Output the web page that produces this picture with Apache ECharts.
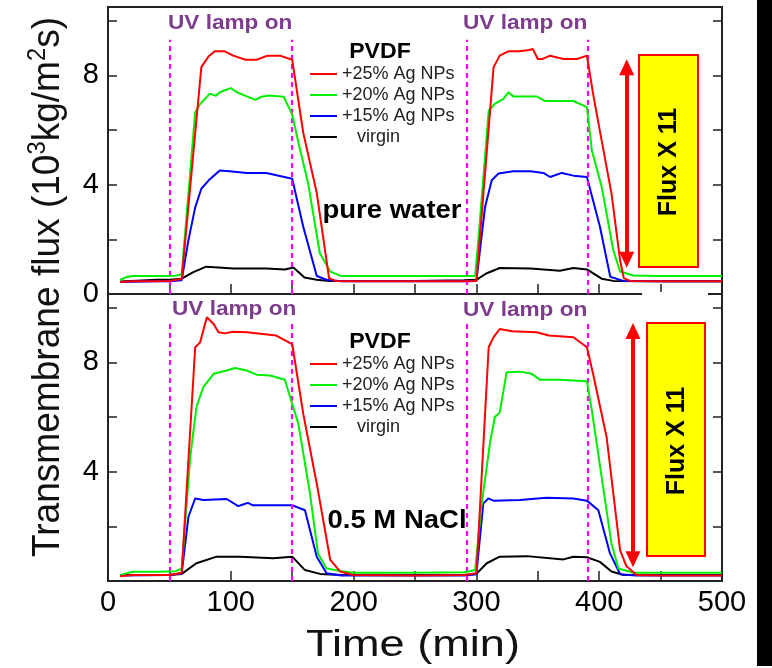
<!DOCTYPE html>
<html><head><meta charset="utf-8">
<script src="https://cdn.jsdelivr.net/npm/echarts@6/dist/echarts.min.js"></script>
<style>html,body{margin:0;padding:0;background:#fff}#c{width:772px;height:668px}</style>
</head><body><div id="c"></div>
<script>
// ---------- data ----------
const xTickLabels = [0, 100, 200, 300, 400, 500];
const yTickLabelsTop = [0, 4, 8];
const yTickLabelsBottom = [4, 8];
const yTicks = [2, 4, 6, 8, 10];
const uvLampOn = [50, 292];
const uvLampOff = [150, 391];
const seriesNames = ['+25% Ag NPs', '+20% Ag NPs', '+15% Ag NPs', 'virgin'];
const seriesColors = ['#ff0000', '#00ee00', '#0000ff', '#000000'];

// pure water panel
const pureWater25 = [[10,0.44],[20,0.47],[40,0.47],[50,0.48],[60,0.55],[76,8.3],[82,8.7],[87,8.88],[95,8.88],[102,8.72],[112,8.57],[121,8.57],[130,8.72],[140,8.72],[150,8.57],[159,5.9],[170,3.7],[180,0.58],[185,0.48],[200,0.47],[250,0.47],[290,0.47],[300,0.48],[314,8.3],[319,8.72],[326,8.88],[335,8.88],[343,8.93],[346,8.96],[350,8.6],[354,8.6],[360,8.72],[371,8.6],[382,8.6],[390,8.72],[395,7.33],[401,5.86],[410,3.67],[417,1.24],[420,0.58],[425,0.48],[450,0.47],[500,0.47]];
const pureWater20 = [[10,0.52],[15,0.62],[20,0.66],[40,0.66],[55,0.67],[60,0.72],[71,6.65],[75,6.95],[83,7.33],[88,7.25],[91,7.38],[100,7.53],[105,7.38],[112,7.25],[120,7.1],[125,7.22],[131,7.26],[143,7.22],[150,6.56],[155,5.55],[163,4.04],[172.5,1.49],[181,0.82],[189,0.67],[200,0.66],[250,0.66],[290,0.66],[299,0.67],[302,2.2],[310,6.7],[315,6.96],[322,7.14],[326,7.38],[330,7.23],[349,7.23],[356,7.06],[379,7.06],[390,6.84],[394,5.26],[402,3.92],[411.5,1.6],[417,0.82],[428,0.68],[450,0.66],[500,0.66]];
const pureWater15 = [[10,0.44],[40,0.47],[50,0.47],[60,0.5],[65.5,1.97],[71,3.17],[76,3.85],[82,4.16],[91,4.52],[99,4.49],[113,4.43],[129,4.43],[150,4.22],[159,2.46],[170,0.66],[178,0.52],[190,0.47],[250,0.47],[290,0.47],[300,0.48],[307,3.17],[312.5,4.16],[318,4.41],[330,4.49],[344,4.49],[354.5,4.43],[360,4.28],[369.5,4.43],[379,4.33],[390,4.28],[400.6,2.46],[409,0.63],[419.6,0.48],[450,0.47],[500,0.47]];
const pureWaterVirgin = [[10,0.46],[40,0.52],[50,0.52],[60,0.56],[69.5,0.8],[80,1.0],[90,0.97],[102,0.93],[129,0.93],[144,0.9],[151,0.97],[160,0.6],[170,0.52],[180,0.48],[250,0.48],[290,0.5],[300,0.52],[308,0.75],[319,0.95],[344,0.93],[368,0.85],[379,0.95],[390,0.9],[402,0.56],[411.5,0.48],[450,0.47],[500,0.47]];

// 0.5 M NaCl panel
const nacl25 = [[10,0.17],[20,0.22],[50,0.22],[60,0.3],[71,8.55],[75,8.73],[80.5,9.65],[86,9.4],[90,9.1],[95,9.06],[102,9.12],[113,9.1],[137,8.98],[150,8.67],[159,6.12],[170,3.56],[181,0.77],[189,0.35],[200,0.22],[250,0.2],[290,0.22],[300,0.28],[310,8.55],[314,8.92],[319,9.22],[329,9.14],[349,9.1],[359,8.98],[379,8.92],[390,8.55],[395,7.58],[406,5.27],[417,1.13],[422,0.55],[430.5,0.22],[450,0.2],[500,0.2]];
const nacl20 = [[10,0.22],[20,0.34],[40,0.34],[55,0.36],[60,0.45],[67,4.54],[72,6.36],[77.6,7.09],[86,7.58],[96.7,7.7],[103.4,7.79],[113,7.7],[121,7.55],[132,7.52],[144,7.36],[150,6.48],[155,5.75],[164.5,3.2],[171,1.01],[178,0.46],[189,0.37],[200,0.3],[250,0.3],[290,0.32],[299,0.4],[304,2.71],[311,5.03],[315,6.0],[319,6.16],[324.6,7.64],[335.5,7.66],[345,7.58],[352,7.36],[368,7.36],[390,7.31],[394,6.24],[402,3.8],[410,1.37],[415.6,0.46],[428,0.3],[450,0.3],[500,0.3]];
const nacl15 = [[10,0.2],[50,0.22],[60,0.28],[65.5,2.35],[71,3.02],[77.6,2.96],[96.7,3.0],[106,2.74],[110,2.8],[114,2.86],[118,2.77],[143,2.77],[150,2.77],[160.4,2.59],[170,0.89],[178,0.28],[190,0.2],[250,0.2],[290,0.2],[300,0.25],[305.6,2.83],[309.7,3.02],[313.8,2.94],[335.5,2.96],[357,3.05],[379,3.02],[390,2.94],[399.3,2.59],[408.8,1.01],[417,0.25],[430,0.2],[500,0.2]];
const naclVirgin = [[10,0.22],[50,0.22],[60,0.26],[72,0.65],[88.5,0.89],[107.5,0.89],[134.6,0.83],[150,0.89],[160.4,0.4],[172.6,0.26],[190,0.22],[290,0.22],[300,0.26],[308.4,0.65],[319,0.89],[341,0.91],[370.8,0.79],[379,0.89],[390,0.87],[400.6,0.7],[410,0.35],[420,0.22],[500,0.22]];

// Flux X 11 arrows (time, from, to)
const fluxArrowTop = [422.4, 8.3, 1.25];
const fluxArrowBottom = [427.5, 9.15, 0.8];
const uvLineTopMax = [9.3, 9.45];

// ---------- chart ----------
const FONT = "'Liberation Sans', Arial, sans-serif";
const chart = echarts.init(document.getElementById('c'));

function xAxisCfg(gi, showLabels) {
  return {
    type: 'value', gridIndex: gi, min: 0, max: 500, interval: 50,
    axisLine: { show: false },
    axisTick: { show: true, inside: true, length: 10, lineStyle: { color: '#222', width: 1.5 } },
    splitLine: { show: false },
    axisLabel: {
      show: showLabels, interval: 0, margin: 7,
      fontFamily: FONT, fontSize: 29, color: '#000',
      showMinLabel: true, showMaxLabel: true,
      formatter: v => xTickLabels.indexOf(v) >= 0 ? String(v) : ''
    }
  };
}
function yAxisCfg(gi, labels, right) {
  return {
    type: 'value', gridIndex: gi, min: 0, max: 10.5, position: right ? 'right' : 'left',
    axisLine: { show: false },
    axisTick: { show: true, inside: true, length: 9, customValues: yTicks, lineStyle: { color: '#222', width: 1.5 } },
    splitLine: { show: false },
    axisLabel: right ? { show: false } : {
      show: true, customValues: labels, margin: 9,
      fontFamily: FONT, fontSize: 29, color: '#000'
    }
  };
}

function panelSeries(gi, d25, d20, d15, dv, arrow, uvMax) {
  const data = [d25, d20, d15, dv];
  const out = [];
  for (let i = 3; i >= 0; i--) {
    const s = {
      type: 'line', name: seriesNames[i], xAxisIndex: gi, yAxisIndex: gi * 2,
      data: data[i], symbol: 'none', showSymbol: false, smooth: false,
      lineStyle: { color: seriesColors[i], width: 2 }, itemStyle: { color: seriesColors[i] },
      z: 3 + (3 - i)
    };
    if (i === 3) {
      const lines = [];
      uvLampOn.concat(uvLampOff).forEach(t => lines.push([{ coord: [t, 0] }, { coord: [t, uvMax] }]));
      s.markLine = {
        silent: true, symbol: ['none', 'none'], label: { show: false },
        lineStyle: { color: '#ff00ff', width: 2.2, type: [5, 4] },
        data: lines, animation: false
      };
    }
    if (i === 0) {
      s.markLine = {
        silent: true, symbol: ['triangle', 'triangle'], symbolSize: [15, 16], label: { show: false },
        lineStyle: { color: '#ff0000', width: 4, type: 'solid' },
        itemStyle: { color: '#ff0000' },
        data: [[{ coord: [arrow[0], arrow[1]] }, { coord: [arrow[0], arrow[2]] }]], animation: false
      };
    }
    out.push(s);
  }
  return out;
}

function legendCfg(top) {
  return {
    show: true, orient: 'vertical', left: 310, top: top, padding: 0,
    icon: 'rect', itemWidth: 27, itemHeight: 2, itemGap: 3,
    data: seriesNames,
    textStyle: { fontFamily: FONT, fontSize: 18, color: '#222', lineHeight: 18 },
    formatter: n => n === 'virgin' ? '   virgin' : n,
    selectedMode: false
  };
}

function text(x, y, str, size, opts, sx) {
  return {
    type: 'text', x: x, y: y, z: 50, scaleX: sx || 1,
    style: Object.assign({ text: str, fontFamily: FONT, fontSize: size, fill: '#000', align: 'left', verticalAlign: 'middle' }, opts || {})
  };
}

const UV = { fontWeight: 'bold', fill: '#7d3c8c' };
const graphics = [
  // UV lamp labels
  text(168, 23, 'UV lamp on', 20, UV, 1.13),
  text(463, 23, 'UV lamp on', 20, UV, 1.13),
  text(172, 309, 'UV lamp on', 20, UV, 1.13),
  text(463, 310, 'UV lamp on', 20, UV, 1.13),
  // PVDF
  text(380, 52, 'PVDF', 22, { fontWeight: 'bold', align: 'center' }, 1.05),
  text(380, 342, 'PVDF', 22, { fontWeight: 'bold', align: 'center' }, 1.05),
  // panel labels
  text(392, 211, 'pure water', 25, { fontWeight: 'bold', align: 'center' }, 1.1),
  text(397, 521, '0.5 M NaCl', 25, { fontWeight: 'bold', align: 'center' }, 1.1),
  // Flux boxes
  { type: 'rect', z: 40, shape: { x: 639, y: 55, width: 59, height: 212 }, style: { fill: '#ffff00', stroke: '#ff0000', lineWidth: 2 } },
  { type: 'rect', z: 40, shape: { x: 647, y: 323, width: 58, height: 233 }, style: { fill: '#ffff00', stroke: '#ff0000', lineWidth: 2 } },
  Object.assign(text(669, 162, 'Flux X 11', 25, { fontWeight: 'bold', align: 'center' }), { rotation: Math.PI / 2 }),
  Object.assign(text(677, 441, 'Flux X 11', 25, { fontWeight: 'bold', align: 'center' }), { rotation: Math.PI / 2 }),
  // axis titles
  text(413, 646, 'Time (min)', 37, { align: 'center', fill: '#111' }, 1.22),
  {
    type: 'text', x: 48, y: 287, z: 50, rotation: Math.PI / 2, scaleX: 1.03, scaleY: 1.1,
    style: {
      text: 'Transmembrane flux (10{s|3}kg/m{s|2}s)', fontFamily: FONT, fontSize: 36, fill: '#111',
      align: 'center', verticalAlign: 'middle',
      rich: { s: { fontSize: 23, fontFamily: FONT, fill: '#111', verticalAlign: 'top', lineHeight: 41 } }
    }
  },
  // gap in the shared border
  { type: 'rect', z: 60, shape: { x: 642, y: 292, width: 66, height: 4 }, style: { fill: '#fff' } },
  // black strip at the right edge
  { type: 'rect', z: 60, shape: { x: 757, y: 0, width: 15, height: 666 }, style: { fill: '#000' } }
];

chart.setOption({
  animation: false,
  backgroundColor: '#fff',
  grid: [
    { left: 108, top: 7, width: 614, height: 287, show: true, borderColor: '#222', borderWidth: 2, backgroundColor: 'transparent' },
    { left: 108, top: 294, width: 614, height: 287, show: true, borderColor: '#222', borderWidth: 2, backgroundColor: 'transparent' }
  ],
  xAxis: [xAxisCfg(0, false), xAxisCfg(1, true)],
  yAxis: [yAxisCfg(0, yTickLabelsTop, false), yAxisCfg(0, yTickLabelsTop, true), yAxisCfg(1, yTickLabelsBottom, false), yAxisCfg(1, yTickLabelsBottom, true)],
  legend: [legendCfg(65), legendCfg(355)],
  series: panelSeries(0, pureWater25, pureWater20, pureWater15, pureWaterVirgin, fluxArrowTop, uvLineTopMax[0])
    .concat(panelSeries(1, nacl25, nacl20, nacl15, naclVirgin, fluxArrowBottom, uvLineTopMax[1])),
  graphic: graphics
});
</script>
</body></html>
